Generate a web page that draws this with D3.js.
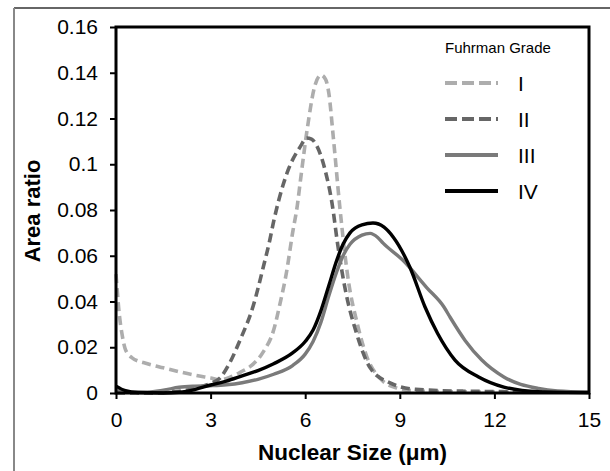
<!doctype html>
<html lang="en">
<head>
<meta charset="utf-8">
<title>Nuclear size distribution by Fuhrman grade</title>
<script src="https://d3js.org/d3.v7.min.js"></script>
<style>
  body { margin: 0; background: #fff; }
  svg { font-family: "Liberation Sans", Arial, sans-serif; }
</style>
</head>
<body>
<svg id="chart" width="610" height="471"></svg>
<script>
// values: [nuclear size (um), area ratio]
const gradeI = [[0,0.052],[0.1,0.035],[0.2,0.025],[0.3,0.019],[0.5,0.0155],[1,0.0128],[1.5,0.011],[2,0.0093],[2.5,0.0078],[3,0.0066],[3.3,0.0058],[3.6,0.0068],[4,0.0095],[4.25,0.0115],[4.67,0.018],[5,0.0275],[5.2,0.039],[5.41,0.053],[5.6,0.07],[5.75,0.082],[5.85,0.093],[6.06,0.115],[6.3,0.134],[6.5,0.139],[6.65,0.137],[6.75,0.131],[6.89,0.112],[7.1,0.081],[7.37,0.049],[7.64,0.031],[7.95,0.016],[8.37,0.0065],[8.9,0.0022],[9.5,0.0009],[11,0.0005],[13.5,0.0003]];
const gradeII = [[0,0],[1,0],[2,0.0008],[2.5,0.002],[3,0.0042],[3.3,0.0066],[3.6,0.013],[3.93,0.023],[4.35,0.038],[4.67,0.055],[4.88,0.067],[5,0.075],[5.3,0.091],[5.46,0.0975],[5.84,0.1076],[6.05,0.1115],[6.2,0.111],[6.37,0.108],[6.63,0.0975],[6.85,0.083],[7.04,0.064],[7.26,0.046],[7.63,0.026],[8.06,0.011],[8.69,0.0044],[9.5,0.0016],[11,0.0008],[13.5,0.0005]];
const gradeIII = [[0,0.001],[0.5,0.0004],[1,0.0004],[1.5,0.0012],[2,0.0025],[2.5,0.003],[3,0.0032],[3.5,0.0036],[4,0.0045],[4.5,0.006],[5,0.0082],[5.6,0.012],[6,0.017],[6.25,0.0225],[6.5,0.031],[6.75,0.0425],[7,0.053],[7.2,0.06],[7.42,0.065],[7.8,0.069],[8.06,0.0698],[8.3,0.068],[8.47,0.0655],[9.1,0.058],[9.86,0.046],[10.4,0.0376],[10.6,0.033],[11.07,0.023],[11.6,0.0144],[12.3,0.007],[13.4,0.002],[14,0.0009],[15,0.0004]];
const gradeIV = [[0,0.003],[0.3,0.001],[0.7,0.0002],[1.5,0],[2,0.0003],[2.5,0.0015],[3,0.0035],[3.5,0.0052],[4,0.0075],[4.5,0.0098],[5,0.0128],[5.6,0.0175],[6,0.0225],[6.25,0.0275],[6.5,0.036],[6.75,0.047],[7,0.058],[7.2,0.065],[7.42,0.07],[7.8,0.0735],[8.15,0.0743],[8.5,0.0725],[8.8,0.068],[9.32,0.055],[9.8,0.0376],[10.2,0.026],[10.75,0.0144],[11.5,0.007],[12.3,0.0026],[13.4,0.0006],[15,0.0002]];

const seriesNames = ["I", "II", "III", "IV"];
const seriesData = [gradeI, gradeII, gradeIII, gradeIV];
const xTicks = [0, 3, 6, 9, 12, 15];
const yTicks = [0, 0.02, 0.04, 0.06, 0.08, 0.1, 0.12, 0.14, 0.16];
const legendTitle = "Fuhrman Grade";

// line styles
const styles = [
  { color: "#adadad", dash: "9,5", width: 3.6 },
  { color: "#666666", dash: "9,5", width: 3.6 },
  { color: "#7a7a7a", dash: null, width: 3.4 },
  { color: "#000000", dash: null, width: 3.4 }
];

const svg = d3.select("#chart");
const m = { left: 116, right: 589, top: 27, bottom: 393 };

const x = d3.scaleLinear().domain([0, 15]).range([m.left, m.right]);
const y = d3.scaleLinear().domain([0, 0.16]).range([m.bottom, m.top]);

// outer figure frame (only top and left are in view)
svg.append("line").attr("x1", 14).attr("x2", 610).attr("y1", 8).attr("y2", 8)
  .attr("stroke", "#333").attr("stroke-width", 1.5);
svg.append("line").attr("x1", 14).attr("x2", 14).attr("y1", 8).attr("y2", 471)
  .attr("stroke", "#888").attr("stroke-width", 2);

// curves
const line = d3.line()
  .x(d => x(d[0]))
  .y(d => y(d[1]))
  .curve(d3.curveMonotoneX);

const plot = svg.append("g");
seriesData.forEach((s, i) => {
  plot.append("path")
    .datum(s)
    .attr("d", line)
    .attr("fill", "none")
    .attr("stroke", styles[i].color)
    .attr("stroke-width", styles[i].width)
    .attr("stroke-dasharray", styles[i].dash)
    .attr("stroke-linejoin", "round");
});

// axes
const yAxis = svg.append("g")
  .attr("transform", `translate(${m.left},0)`)
  .call(d3.axisLeft(y).tickValues(yTicks).tickSize(6).tickPadding(12)
    .tickFormat(d => d === 0 ? "0" : String(+d.toFixed(2))));
const xAxis = svg.append("g")
  .attr("transform", `translate(0,${m.bottom})`)
  .call(d3.axisBottom(x).tickValues(xTicks).tickSize(6).tickPadding(13));

[xAxis, yAxis].forEach(a => {
  a.select(".domain").remove();
  a.selectAll(".tick line").attr("stroke", "#000").attr("stroke-width", 2);
  a.selectAll(".tick text").attr("font-size", 21).attr("fill", "#000")
    .attr("font-family", "Liberation Sans, Arial, sans-serif");
});

// plot frame
svg.append("rect")
  .attr("x", m.left).attr("y", m.top)
  .attr("width", m.right - m.left).attr("height", m.bottom - m.top)
  .attr("fill", "none").attr("stroke", "#000").attr("stroke-width", 3);

// axis titles
svg.append("text")
  .attr("x", (m.left + m.right) / 2).attr("y", 460)
  .attr("text-anchor", "middle")
  .attr("font-size", 22.5).attr("font-weight", "bold")
  .text("Nuclear Size (\u03bcm)");

svg.append("text")
  .attr("transform", "translate(40,211) rotate(-90)")
  .attr("text-anchor", "middle")
  .attr("font-size", 22).attr("font-weight", "bold")
  .text("Area ratio");

// legend
const legend = svg.append("g");
legend.append("text")
  .attr("x", 445).attr("y", 53)
  .attr("font-size", 15)
  .text(legendTitle);

const rowY = d3.scalePoint().domain(seriesNames).range([83, 191]);
seriesNames.forEach((n, i) => {
  legend.append("line")
    .attr("x1", 445).attr("x2", 498)
    .attr("y1", rowY(n)).attr("y2", rowY(n))
    .attr("stroke", styles[i].color)
    .attr("stroke-width", 4)
    .attr("stroke-dasharray", styles[i].dash ? "12,5" : null);
  legend.append("text")
    .attr("x", 518).attr("y", rowY(n) + 7.5)
    .attr("font-size", 21)
    .text(n);
});
</script>
</body>
</html>
